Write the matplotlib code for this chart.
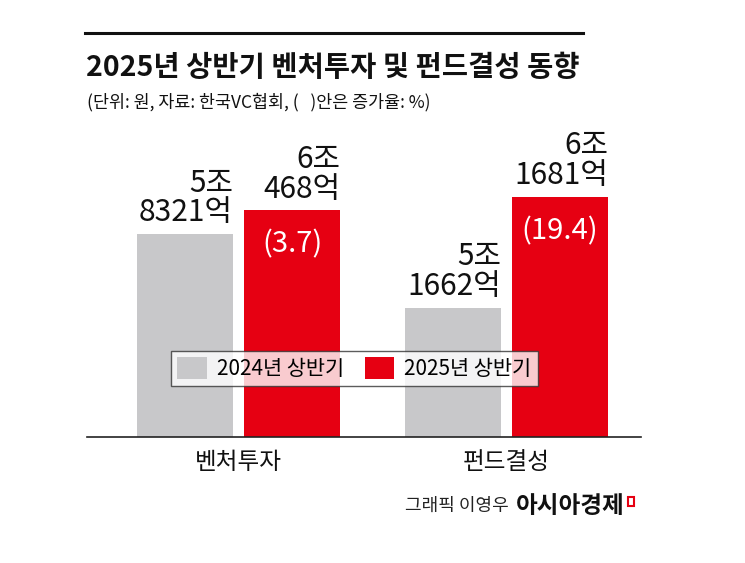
import matplotlib
matplotlib.use("Agg")
import matplotlib.pyplot as plt
from matplotlib.patches import Rectangle

plt.rcParams['font.family'] = ['Noto Sans CJK KR', 'DejaVu Sans']

categories = ['벤처투자', '펀드결성']
series_names = ['2024년 상반기', '2025년 상반기']
values_2024 = [58321, 51662]
values_2025 = [60468, 61681]
labels_2024 = ['5조\n8321억', '5조\n1662억']
labels_2025 = ['6조\n468억', '6조\n1681억']
growth = ['(3.7)', '(19.4)']

GRAY = '#c8c8ca'
RED = '#e60012'

W, H = 745, 563
fig = plt.figure(figsize=(W / 100, H / 100), dpi=100)

def fx(px):
    return px / W

def fy(py):
    return 1 - py / H

# axes: x 87..641, y 130..437
ax = fig.add_axes([fx(87), fy(437), fx(641) - fx(87), (437 - 130) / H])
x = list(range(len(categories)))
bw = 0.358
off = 0.2
ax.bar([i - off for i in x], values_2024, width=bw, color=GRAY, label=series_names[0], zorder=2)
ax.bar([i + off for i in x], values_2025, width=bw, color=RED, label=series_names[1], zorder=2)
ax.set_xlim(-0.565, 1.502)
ax.set_ylim(40000, 67700)
for s in ['top', 'right', 'left']:
    ax.spines[s].set_visible(False)
ax.spines['bottom'].set_color('#222222')
ax.spines['bottom'].set_linewidth(1.2)
ax.set_yticks([])
ax.set_xticks(x)
ax.set_xticklabels(categories, fontsize=17, color='#111111')
ax.tick_params(axis='x', length=0, pad=10)

for i in x:
    ax.annotate(labels_2024[i], xy=(i - off + bw / 2, values_2024[i]), xytext=(0, 4),
                textcoords='offset points', ha='right', va='bottom', fontsize=21.5,
                linespacing=0.95, color='#111111')
    ax.annotate(labels_2025[i], xy=(i + off + bw / 2, values_2025[i]), xytext=(0, 4),
                textcoords='offset points', ha='right', va='bottom', fontsize=21.5,
                linespacing=0.95, color='#111111')
    ax.annotate(growth[i], xy=(i + off, values_2025[i]), xytext=(0, -25),
                textcoords='offset points', ha='center', va='center', fontsize=21,
                color='white')

leg = ax.legend(loc='center', bbox_to_anchor=(fx(354.5), fy(368.5)),
                bbox_transform=fig.transFigure, ncol=2, fontsize=15,
                frameon=True, fancybox=False, edgecolor='#333333',
                handlelength=1.4, handleheight=1.2, handletextpad=0.5,
                columnspacing=1.0, borderpad=0.3, borderaxespad=0)
leg.get_frame().set_linewidth(1.0)
leg.set_zorder(5)

# top rule
fig.add_artist(plt.Line2D([fx(85), fx(583)], [fy(33), fy(33)], color='#111111', linewidth=2.2))

fig.text(fx(86), fy(68), '2025년 상반기 벤처투자 및 펀드결성 동향', fontsize=20.5,
         fontweight='bold', ha='left', va='center', color='#111111')
fig.text(fx(87), fy(102), '(단위: 원, 자료: 한국VC협회, (   )안은 증가율: %)', fontsize=12.5,
         ha='left', va='center', color='#111111')

fig.text(fx(405), fy(506), '그래픽 이영우', fontsize=13, ha='left', va='center', color='#222222')
fig.text(fx(625), fy(506), '아시아경제', fontsize=17, fontweight='bold', ha='right', va='center',
         color='#111111')
fig.add_artist(Rectangle((fx(628), fy(506)), fx(6), 9 / H, fill=False, edgecolor=RED,
                         linewidth=1.5, transform=fig.transFigure))

fig.savefig('out.png', dpi=100)
